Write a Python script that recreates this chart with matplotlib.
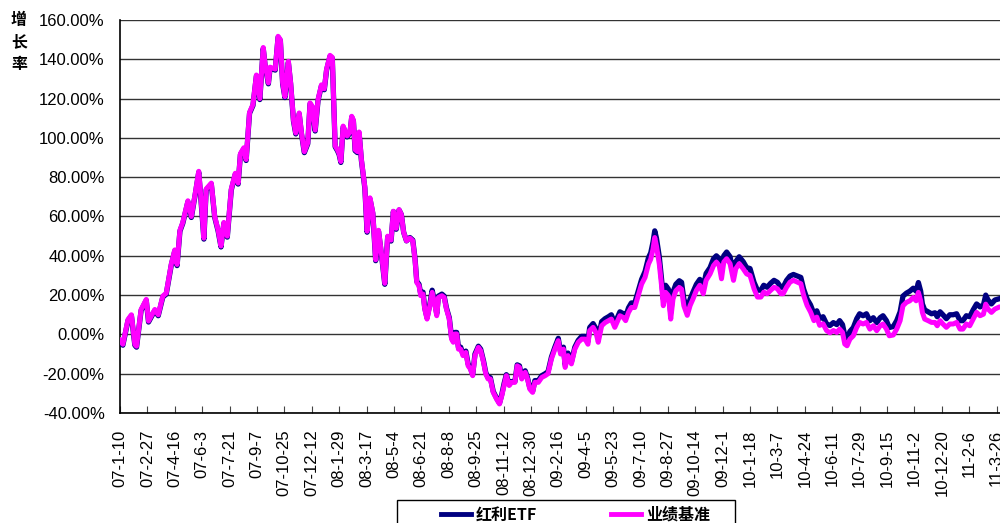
import numpy as np
import pandas as pd
import matplotlib
matplotlib.use('Agg')
import matplotlib.pyplot as plt
import matplotlib.dates as mdates
from matplotlib.ticker import FuncFormatter
from matplotlib.patches import Rectangle
from matplotlib.lines import Line2D

plt.rcParams['font.family'] = ['Liberation Sans', 'Noto Sans CJK SC']

# cumulative growth (%)
dates = [
    '2007-01-10', '2007-01-15', '2007-01-24', '2007-01-30', '2007-02-05', '2007-02-08', '2007-02-16', '2007-02-25',
    '2007-03-01', '2007-03-12', '2007-03-18', '2007-03-26', '2007-04-01', '2007-04-10', '2007-04-16', '2007-04-20',
    '2007-04-25', '2007-04-30', '2007-05-09', '2007-05-15', '2007-05-22', '2007-05-28', '2007-06-01', '2007-06-06',
    '2007-06-10', '2007-06-19', '2007-06-25', '2007-07-01', '2007-07-06', '2007-07-11', '2007-07-17', '2007-07-24',
    '2007-07-31', '2007-08-05', '2007-08-09', '2007-08-15', '2007-08-19', '2007-08-25', '2007-08-31', '2007-09-06',
    '2007-09-12', '2007-09-18', '2007-09-21', '2007-09-27', '2007-09-30', '2007-10-09', '2007-10-14', '2007-10-18',
    '2007-10-22', '2007-10-26', '2007-11-01', '2007-11-05', '2007-11-10', '2007-11-14', '2007-11-20', '2007-11-24',
    '2007-11-29', '2007-12-05', '2007-12-09', '2007-12-13', '2007-12-18', '2007-12-23', '2007-12-29', '2008-01-03',
    '2008-01-07', '2008-01-13', '2008-01-17', '2008-01-22', '2008-01-26', '2008-01-29', '2008-02-01', '2008-02-05',
    '2008-02-12', '2008-02-17', '2008-02-20', '2008-02-23', '2008-02-26', '2008-03-01', '2008-03-04', '2008-03-08',
    '2008-03-14', '2008-03-18', '2008-03-23', '2008-03-28', '2008-04-02', '2008-04-07', '2008-04-12', '2008-04-18',
    '2008-04-23', '2008-04-29', '2008-05-03', '2008-05-08', '2008-05-13', '2008-05-17', '2008-05-21', '2008-05-26',
    '2008-06-01', '2008-06-06', '2008-06-10', '2008-06-13', '2008-06-17', '2008-06-20', '2008-06-24', '2008-06-27',
    '2008-07-01', '2008-07-06', '2008-07-10', '2008-07-15', '2008-07-18', '2008-07-21', '2008-07-27', '2008-07-31',
    '2008-08-04', '2008-08-09', '2008-08-13', '2008-08-16', '2008-08-19', '2008-08-22', '2008-08-25', '2008-08-29',
    '2008-09-02', '2008-09-07', '2008-09-11', '2008-09-15', '2008-09-19', '2008-09-23', '2008-09-29', '2008-10-03',
    '2008-10-08', '2008-10-12', '2008-10-16', '2008-10-20', '2008-10-25', '2008-10-31', '2008-11-05', '2008-11-09',
    '2008-11-13', '2008-11-17', '2008-11-22', '2008-11-26', '2008-12-02', '2008-12-06', '2008-12-10', '2008-12-14',
    '2008-12-20', '2008-12-24', '2008-12-28', '2009-01-02', '2009-01-06', '2009-01-12', '2009-01-18', '2009-01-24',
    '2009-01-29', '2009-02-04', '2009-02-10', '2009-02-16', '2009-02-20', '2009-02-25', '2009-02-28', '2009-03-05',
    '2009-03-11', '2009-03-17', '2009-03-23', '2009-03-29', '2009-04-04', '2009-04-09', '2009-04-12', '2009-04-18',
    '2009-04-23', '2009-04-27', '2009-05-03', '2009-05-09', '2009-05-15', '2009-05-20', '2009-05-26', '2009-06-04',
    '2009-06-10', '2009-06-14', '2009-06-19', '2009-06-24', '2009-06-30', '2009-07-06', '2009-07-12', '2009-07-18',
    '2009-07-24', '2009-07-28', '2009-08-01', '2009-08-04', '2009-08-07', '2009-08-12', '2009-08-16', '2009-08-19',
    '2009-08-23', '2009-08-28', '2009-09-01', '2009-09-05', '2009-09-10', '2009-09-16', '2009-09-20', '2009-09-24',
    '2009-09-30', '2009-10-05', '2009-10-10', '2009-10-16', '2009-10-22', '2009-10-28', '2009-11-02', '2009-11-09',
    '2009-11-15', '2009-11-20', '2009-11-25', '2009-11-29', '2009-12-03', '2009-12-08', '2009-12-14', '2009-12-20',
    '2009-12-24', '2009-12-30', '2010-01-06', '2010-01-12', '2010-01-18', '2010-01-25', '2010-01-31', '2010-02-06',
    '2010-02-11', '2010-02-17', '2010-02-23', '2010-03-01', '2010-03-07', '2010-03-13', '2010-03-17', '2010-03-23',
    '2010-03-29', '2010-04-04', '2010-04-11', '2010-04-17', '2010-04-22', '2010-04-28', '2010-05-04', '2010-05-10',
    '2010-05-15', '2010-05-20', '2010-05-26', '2010-06-01', '2010-06-07', '2010-06-13', '2010-06-19', '2010-06-24',
    '2010-06-29', '2010-07-03', '2010-07-07', '2010-07-12', '2010-07-18', '2010-07-24', '2010-07-29', '2010-08-04',
    '2010-08-10', '2010-08-16', '2010-08-22', '2010-08-28', '2010-09-03', '2010-09-08', '2010-09-14', '2010-09-19',
    '2010-09-26', '2010-10-02', '2010-10-08', '2010-10-13', '2010-10-19', '2010-10-25', '2010-10-31', '2010-11-05',
    '2010-11-09', '2010-11-13', '2010-11-16', '2010-11-20', '2010-11-26', '2010-12-02', '2010-12-08', '2010-12-12',
    '2010-12-17', '2010-12-22', '2010-12-28', '2011-01-03', '2011-01-09', '2011-01-15', '2011-01-21', '2011-01-26',
    '2011-02-01', '2011-02-07', '2011-02-13', '2011-02-19', '2011-02-25', '2011-03-03', '2011-03-07', '2011-03-11',
    '2011-03-17', '2011-03-23', '2011-03-29',
]

benchmark = [
    -3, -5, 7.6, 10, -5, -6, 12.7, 17.8,
    6.8, 12.7, 10, 19.5, 21, 36, 43, 35.6,
    53, 57, 68, 60, 72, 83, 68.6, 49,
    74, 77, 60, 53, 45, 57, 50, 74,
    82, 77, 92, 95, 89, 113, 117, 132,
    120, 146, 138, 128, 136, 135, 151.7, 150,
    128, 121, 139, 128, 109, 102.5, 112.7, 102.5,
    93, 97.5, 117.8, 116, 104, 119.5, 127, 125,
    135, 142, 141, 96, 94, 92, 88, 106,
    101, 103, 111, 109, 94, 93, 103, 89,
    75, 52.5, 69.5, 62, 38, 53, 41.5, 26,
    50, 48, 62.7, 54, 63.5, 61, 52, 47.6,
    49, 47.6, 38, 26.4, 24.7, 19.7, 20.5, 12.9,
    7.8, 14.6, 21.4, 14.6, 9.5, 18.8, 19.7, 18.8,
    12.9, 7.8, -2.4, -4, 0.2, 0.2, -7.5, -7.5,
    -10.8, -9.2, -16, -17.6, -21, -10.8, -6.6, -8.3,
    -14.2, -20.2, -22.7, -22.7, -29.5, -33, -35.4, -31.2,
    -26, -21, -26, -24.4, -24.4, -16, -16.8, -22.7,
    -19.3, -22.7, -27.8, -29.5, -24.4, -24.4, -21.9, -21,
    -20, -12.5, -7.5, -3.2, -10, -7.5, -16.8, -10.8,
    -15, -7.5, -4, -2.4, -2.4, -5, 1.9, 3.6,
    1, -4, 4.4, 6, 7, 7.8, 3.6, 9.5,
    8.6, 7, 11.2, 13.7, 13.7, 19.7, 25.6, 29,
    35.8, 38.3, 43.4, 49.3, 45, 35.8, 24.7, 14.6,
    21.4, 19.7, 7.8, 18, 22.2, 23.9, 23, 14.6,
    9.7, 14.7, 18, 22.4, 25, 20.7, 27.5, 30.8,
    35, 36.8, 35, 28.3, 36.8, 38.5, 36, 27.5,
    33.4, 36, 33.4, 30.8, 30, 23.2, 19, 19,
    21.5, 20.7, 22.4, 24, 23.2, 20.7, 20.7, 24,
    26.6, 27.5, 26.6, 25.8, 19.8, 14.7, 11.4, 7,
    8.8, 4.6, 5.4, 2, 0.8, 2, 1, 2.7,
    1, -4.9, -5.8, -2.4, -0.7, 3.6, 6.1, 5.3,
    6.1, 2.7, 4.4, 1.9, 4.4, 5.3, 2.7, -0.7,
    -0.3, 2.7, 7, 14.6, 16.3, 17.1, 18.8, 17.1,
    21.4, 17.1, 11.2, 7.8, 7, 6.1, 6.1, 4.4,
    7, 5.3, 3.6, 5.3, 5.3, 6.1, 2.7, 2.7,
    5.3, 4.4, 7.8, 11.2, 9.5, 10.3, 15.4, 12.9,
    11.2, 12.9, 13.7,
]

etf = [
    -3.5, -5.5, 7, 9.5, -5.5, -6.5, 12.2, 17.3,
    6.3, 12.2, 9.5, 19, 20.5, 35.5, 42.5, 35,
    52.5, 56.5, 67.5, 59.5, 71.5, 82.5, 68, 48.5,
    73.5, 76.5, 59.5, 52.5, 44.5, 56.5, 49.5, 73.5,
    81.5, 76.5, 91.5, 94.5, 88.5, 112.5, 116.5, 131.5,
    119.5, 145.5, 137.5, 127.5, 135.5, 134.5, 151.2, 149.5,
    127.5, 120.5, 138.5, 127.5, 108.5, 102, 112.2, 102,
    92.5, 97, 117.3, 115.5, 103.5, 119, 126.5, 124.5,
    134.5, 141.5, 140.5, 95.5, 93.5, 91.5, 87.5, 105.5,
    100.5, 102.5, 110.5, 108.5, 93.5, 92.5, 102.5, 88.5,
    74.5, 52, 69, 61.5, 37.5, 52.5, 41, 25.5,
    49.5, 47.5, 62.5, 53.5, 63.3, 61, 52, 47.6,
    49.3, 48, 38.5, 27, 25.5, 20.5, 21.5, 13.5,
    8.5, 15.5, 22.5, 15.5, 10.5, 19.5, 20.5, 19.5,
    13.5, 8.5, -1.5, -3, 1, 1, -6.5, -6.5,
    -10, -8.5, -15, -17, -20.5, -10, -6, -7.5,
    -13.5, -19.5, -22, -22, -29, -32.5, -35, -30.5,
    -25, -20.5, -25.5, -24, -24, -15.5, -16, -22,
    -18.5, -22, -27, -29, -23.5, -23.5, -21, -20,
    -19, -11.5, -6.5, -2, -9, -6.5, -15.5, -9.5,
    -14, -6.5, -3, -1, -1, -3.5, 3.5, 5.5,
    3, -2, 6.5, 8, 9, 10, 5.5, 11.5,
    10.5, 9, 13.5, 16, 16, 22, 28, 32,
    39, 41.5, 47, 52.7, 49, 39.5, 28, 18,
    25, 23, 11, 21.5, 25.5, 27.3, 26.5, 18,
    13, 18, 21.5, 25.5, 28, 24, 31, 34,
    38.5, 40, 38.5, 32, 40, 41.9, 39.5, 31,
    37, 39.5, 37, 34, 33.5, 26.5, 22.5, 22.5,
    25, 24, 26, 27.5, 26.5, 24, 24, 27.5,
    29.7, 30.5, 29.7, 29, 23, 18, 15, 10.5,
    12, 8, 9, 5.4, 4.5, 6, 5, 7,
    5, -0.5, -2.4, 1.5, 3.5, 8, 10.5, 9.5,
    10.5, 7, 8.5, 6, 8.5, 9.5, 7, 3.5,
    4, 7, 11.5, 19.5, 21, 22, 23.5, 22,
    26.4, 22, 15.5, 12.5, 11.5, 10.5, 11, 9,
    11.5, 10, 8, 10, 10, 10.5, 7, 7,
    9.5, 9, 12.5, 15.5, 14, 15, 20, 17.5,
    15.5, 17.5, 18,
]

series_names = ['红利ETF', '业绩基准']
series_colors = ['#000080', '#FF00FF']

d = pd.to_datetime(dates)

fig = plt.figure(figsize=(10, 5.23), dpi=100)
ax = fig.add_axes([0.12, 0.2103, 0.88, 0.7515])

ax.plot(d, etf, color=series_colors[0], lw=3.8, zorder=3)
ax.plot(d, benchmark, color=series_colors[1], lw=3.6, zorder=4)

ax.set_ylim(-40, 160)
ax.set_yticks(np.arange(-40, 161, 20))
ax.yaxis.set_major_formatter(FuncFormatter(lambda v, p: f'{v:.2f}%'))

start = pd.Timestamp('2007-01-10')
ticks = pd.date_range(start, periods=33, freq='48D')
ax.set_xticks(mdates.date2num(ticks))
ax.set_xticklabels([f'{t:%y}-{t.month}-{t.day}' for t in ticks], rotation=90)
ax.set_xlim(mdates.date2num(start), mdates.date2num(pd.Timestamp('2011-04-01')))

ax.grid(axis='y', color='#333333', lw=1)
ax.set_axisbelow(True)
for s in ['top', 'right']:
    ax.spines[s].set_visible(False)
for s in ['left', 'bottom']:
    ax.spines[s].set_color('black')
    ax.spines[s].set_linewidth(1.2)

ax.tick_params(axis='y', direction='in', length=0, pad=11, labelsize=12)
ax.tick_params(axis='x', direction='in', length=5, pad=12, labelsize=12, color='#444444')

# y label, characters stacked
for i, ch in enumerate('增长率'):
    fig.text(0.019, 1 - (20 + 22 * i) / 523, ch, ha='center', va='center',
             fontsize=11.5, fontweight='bold', family='Noto Sans CJK SC')

# legend box (runs off the bottom edge like the original)
fig.patches.append(Rectangle((0.397, -0.05), 0.338, 0.05 + 23 / 523, transform=fig.transFigure,
                             fill=False, edgecolor='black', lw=1))
handles = [Line2D([], [], color=c, lw=3.5) for c in series_colors]
fig.legend(handles, series_names, loc='center left', bbox_to_anchor=(0.433, 8 / 523),
           frameon=False, ncol=2, borderpad=0, handlelength=1.9, handletextpad=0.3,
           columnspacing=4.6, prop={'family': 'Noto Sans CJK SC', 'weight': 'bold', 'size': 11.5})

fig.savefig('out.png', dpi=100)
